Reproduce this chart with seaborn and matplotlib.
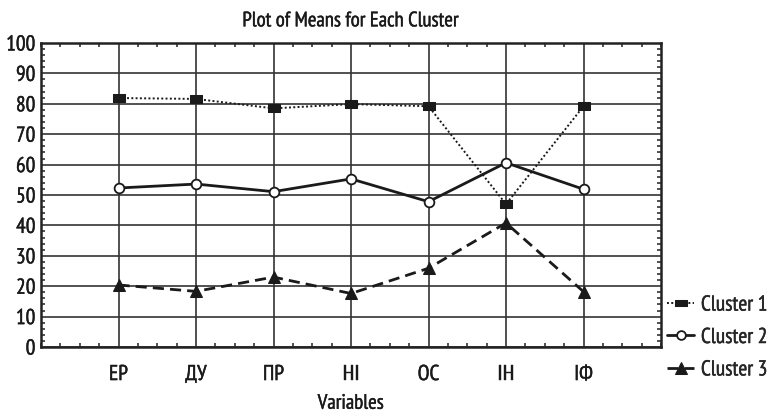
import matplotlib
matplotlib.use("Agg")
import matplotlib.pyplot as plt
from matplotlib.ticker import MultipleLocator, FixedLocator
import matplotlib.patheffects as pe
import numpy as np
import pandas as pd
import seaborn as sns

variables = ["ЕР", "ДУ", "ПР", "НІ", "ОС", "ІН", "ІФ"]
cluster1 = [81.9, 81.6, 78.5, 79.9, 79.2, 47.0, 79.2]
cluster2 = [52.3, 53.6, 51.1, 55.3, 47.8, 60.6, 51.9]
cluster3 = [20.4, 18.3, 23.0, 17.6, 25.9, 40.8, 18.2]
series_names = ["Cluster 1", "Cluster 2", "Cluster 3"]

sns.set_theme(style="white")
plt.rcParams['font.family'] = ['PT Sans Narrow', 'DejaVu Sans']

ink = "#1a1a1a"
thick = [pe.withStroke(linewidth=0.3, foreground=ink)]

fig = plt.figure(figsize=(7.67, 4.14), dpi=100)
ax = fig.add_axes([41/767, 1 - 348/414, 620/767, 304/414])

pos = np.arange(1, len(variables) + 1)
rect = [(-1, -0.6), (1, -0.6), (1, 0.6), (-1, 0.6), (-1, -0.6)]
styles = [
    dict(linestyle=(0, (1, 1.2)), marker=rect, markersize=9, markerfacecolor=ink,
         markeredgecolor=ink, linewidth=1.4),
    dict(linestyle="-", marker="o", markersize=7, markerfacecolor="white",
         markeredgecolor=ink, markeredgewidth=1.3, linewidth=2.0),
    dict(linestyle=(0, (4, 2.2)), marker="^", markersize=9, markerfacecolor=ink,
         markeredgecolor=ink, linewidth=2.0),
]
for name, vals, st in zip(series_names, [cluster1, cluster2, cluster3], styles):
    df = pd.DataFrame({"pos": pos, "value": vals})
    sns.lineplot(data=df, x="pos", y="value", ax=ax, color=ink, label=name, **st)

ax.set_xlim(0, len(variables) + 1)
ax.set_ylim(0, 100)
ax.xaxis.set_major_locator(FixedLocator(pos))
ax.set_xticklabels(variables)
ax.xaxis.set_minor_locator(MultipleLocator(0.25))
ax.yaxis.set_major_locator(MultipleLocator(10))
ax.yaxis.set_minor_locator(MultipleLocator(2))
ax.grid(True, which="major", color="#333333", linewidth=1.2)
ax.tick_params(which="both", direction="in", top=True, right=True, bottom=True, left=True,
               color="#333333")
ax.tick_params(which="major", length=0, labelsize=15.5, pad=4, labelcolor=ink)
ax.tick_params(axis="x", which="major", pad=13)
ax.tick_params(which="minor", length=3, width=1.2)
for sp in ax.spines.values():
    sp.set_color("#222222")
    sp.set_linewidth(1.8)
for lab in ax.get_xticklabels() + ax.get_yticklabels():
    lab.set_path_effects(thick)

ax.set_xlabel("Variables", fontsize=15, labelpad=7, color=ink, path_effects=thick)
ax.set_ylabel("")
ax.set_title("Plot of Means for Each Cluster", fontsize=15, pad=12, color=ink, path_effects=thick)

leg = ax.legend(loc="lower left", bbox_to_anchor=(0.995, -0.135), frameon=False, fontsize=15.5,
                handlelength=1.3, handletextpad=0.3, borderaxespad=0, labelspacing=0.62,
                markerscale=0.9)
for t in leg.get_texts():
    t.set_path_effects(thick)

fig.savefig("out.png", dpi=100)
